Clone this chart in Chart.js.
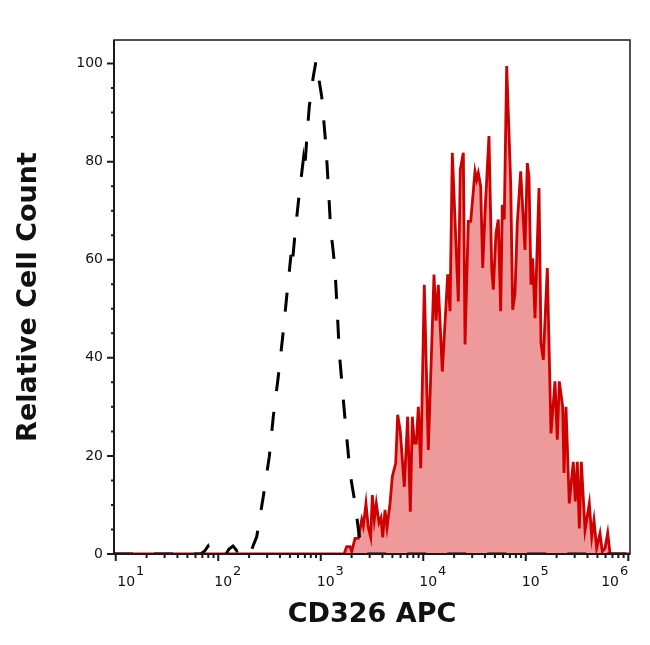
<!DOCTYPE html>
<html lang="en">
<head>
  <meta charset="UTF-8" />
  <title>CD326 APC</title>
  <script src="https://cdn.jsdelivr.net/npm/chart.js"></script>
  <style>
    body { margin: 0; background: #fff; }
    #wrap { width: 650px; height: 645px; }
  </style>
</head>
<body>
<div id="wrap"><canvas id="histChart" width="650" height="645"></canvas></div>

<script>
  // CD326 APC stained sample (red, filled)
  const redX = [9.62, 1687, 1791, 1929, 2003, 2159, 2325, 2511, 2601, 2762, 2909, 3070, 3185, 3329, 3482, 3700, 3870, 4020, 4235, 4430,
    4740, 4990, 5385, 5630, 5970, 6530, 7045, 7475, 7820, 8180, 8555, 8950, 9445, 10235, 11200, 12725, 13310, 14020, 15340, 17310,
    18240, 19200, 21970, 22970, 24590, 25540, 27500, 29020, 31970, 33200, 34430, 36310, 38010, 40000, 43750, 46540, 48220, 51200, 53950, 56900,
    59000, 61660, 65120, 71240, 74500, 78500, 82650, 89170, 98200, 103500, 107500, 112400, 116800, 123000, 134600, 140700, 148200, 162200, 176200, 192700,
    202900, 212300, 229100, 236000, 246700, 265600, 290500, 303900, 318200, 332700, 348300, 378300, 416600, 439700, 462700, 491500, 529700, 557400, 592400, 629700,
    663700, 1039000];
  const redY = [0, 0, 1.5, 1.5, 0.5, 3.2, 3.2, 7, 5.7, 10.3, 5.4, 3.4, 12, 7, 10.3, 6.4, 7.4, 3.4, 9, 5.4,
    10.3, 15.8, 18.5, 28.4, 25, 13.7, 28, 8.6, 28, 22.6, 22.6, 30, 17.5, 54.9, 21.2, 57, 47.6, 54.9, 37.2, 57,
    49.5, 81.8, 51.5, 78.4, 81.8, 42.7, 67.8, 67.8, 78, 76.3, 77.7, 75, 58.3, 69.5, 85.2, 58, 53.9, 65.4, 68.2, 49.5,
    71.2, 68.2, 99.5, 75.7, 49.8, 53.2, 67.5, 78, 62, 79.7, 77, 54.9, 60.3, 48.1, 74.6, 43, 39.6, 58.3, 24.6, 35.2,
    23.3, 35.2, 30, 16.5, 30, 10.3, 18.8, 10.7, 18.8, 5.2, 18.8, 4.9, 10.3, 3.5, 6.9, 1.2, 4.2, 0.5, 1.2, 4.3,
    0, 0];

  // isotype control (black, dashed)
  const isoX = [9.62, 67.9, 74.3, 79.5, 85, 119.2, 127.4, 139.4, 152.4, 163, 174.4, 204.2, 219.9, 237.3, 275.1, 315, 344.4, 385.2, 425.3, 465.4,
    512.5, 524.5, 561.3, 618.2, 676.1, 694.7, 729.8, 773.5, 840.5, 899, 940, 1021, 1125, 1185, 1251, 1318, 1378, 1451, 1518, 1638,
    1763, 1845, 1929, 2159, 2362, 2582, 1039000];
  const isoY = [0, 0, 0.7, 1.6, 0, 0, 1, 1.6, 0.6, 1, 0, 0, 1.8, 3.5, 11.7, 19.9, 28, 36.2, 44.3, 52.5,
    61, 58.5, 65.4, 73.6, 80.4, 78, 84.5, 91.3, 97, 100.5, 98, 93.3, 83.1, 75, 66.1, 62, 58, 49.2, 41, 32.8,
    25.3, 21, 16.5, 10.4, 4, 0, 0];

  const yTicks = [0, 20, 40, 60, 80, 100];
  const xTickExp = [1, 2, 3, 4, 5, 6];   // labels 10^1 .. 10^6

  const toPoints = (xs, ys) => xs.map((x, i) => ({ x: x, y: ys[i] }));
  const FONT = 'DejaVu Sans';

  // frame, tick marks and the 10^n labels
  const axisDecor = {
    id: 'axisDecor',
    afterDraw(chart) {
      const { ctx, chartArea: a } = chart;
      const xs = chart.scales.x, ys = chart.scales.y;
      ctx.save();
      ctx.strokeStyle = '#1a1a1a';
      ctx.lineWidth = 1.5;
      ctx.strokeRect(a.left, a.top, a.right - a.left, a.bottom - a.top);
      ctx.lineWidth = 2;
      ctx.beginPath();
      ctx.moveTo(a.left, a.top);
      ctx.lineTo(a.left, a.bottom);
      ctx.lineTo(a.right, a.bottom);
      ctx.stroke();

      ctx.beginPath();
      for (let v = 0; v <= 100; v += 5) {
        const py = ys.getPixelForValue(v);
        const len = v % 20 === 0 ? 7 : 3;
        ctx.moveTo(a.left - len, py);
        ctx.lineTo(a.left, py);
      }
      xTickExp.forEach(e => {
        for (let m = 1; m < 10; m++) {
          const v = m * Math.pow(10, e);
          if (v < xs.min || v > xs.max) continue;
          const px = xs.getPixelForValue(v);
          ctx.moveTo(px, a.bottom);
          ctx.lineTo(px, a.bottom + (m === 1 ? 7 : 4));
        }
      });
      ctx.stroke();

      ctx.fillStyle = '#111';
      ctx.textBaseline = 'alphabetic';
      ctx.textAlign = 'left';
      xTickExp.forEach((e, i) => {
        const px = xs.getPixelForValue(Math.pow(10, e));
        ctx.font = '14px "' + FONT + '"';
        const wBase = ctx.measureText('10').width;
        ctx.font = '13px "' + FONT + '"';
        const wExp = ctx.measureText(String(e)).width;
        let left = px - 4;
        if (i === 0) left = px + 1.5;
        if (i === xTickExp.length - 1) left = px - wBase - wExp - 1;
        ctx.font = '14px "' + FONT + '"';
        ctx.fillText('10', left, a.bottom + 32);
        ctx.font = '13px "' + FONT + '"';
        ctx.fillText(String(e), left + wBase + 1, a.bottom + 21);
      });
      ctx.restore();
    }
  };

  new Chart(document.getElementById('histChart'), {
    type: 'line',
    data: {
      datasets: [{
        label: 'Isotype control',
        data: toPoints(isoX, isoY),
        borderColor: '#000',
        borderWidth: 3,
        borderDash: [19, 21],
        fill: false,
        pointRadius: 0,
        tension: 0
      }, {
        label: 'CD326 APC',
        data: toPoints(redX, redY),
        borderColor: '#cf0000',
        backgroundColor: '#ef9a9a',
        borderWidth: 2.8,
        fill: 'origin',
        pointRadius: 0,
        tension: 0
      }]
    },
    options: {
      responsive: false,
      animation: false,
      layout: { padding: { top: 40, right: 20, left: 0, bottom: 0 } },
      plugins: { legend: { display: false }, tooltip: { enabled: false } },
      scales: {
        x: {
          type: 'logarithmic',
          min: 9.62,
          max: 1039000,
          afterFit: s => { s.height = 91; },
          grid: { display: false, drawTicks: false },
          border: { display: false },
          ticks: { display: false },
          title: {
            display: true, text: 'CD326 APC', color: '#111',
            font: { family: FONT, size: 27, weight: 'bold' },
            padding: { top: 0, bottom: 14 }
          }
        },
        y: {
          type: 'linear',
          min: 0,
          max: 104.8,
          afterBuildTicks: s => { s.ticks = yTicks.map(v => ({ value: v })); },
          afterFit: s => { s.width = 114; },
          grid: { display: false, drawTicks: false },
          border: { display: false },
          ticks: { color: '#111', padding: 11, font: { family: FONT, size: 14 } },
          title: {
            display: true, text: 'Relative Cell Count', color: '#111',
            font: { family: FONT, size: 27, weight: 'bold' },
            padding: { top: 13, bottom: 0 }
          }
        }
      }
    },
    plugins: [axisDecor]
  });
</script>
</body>
</html>
